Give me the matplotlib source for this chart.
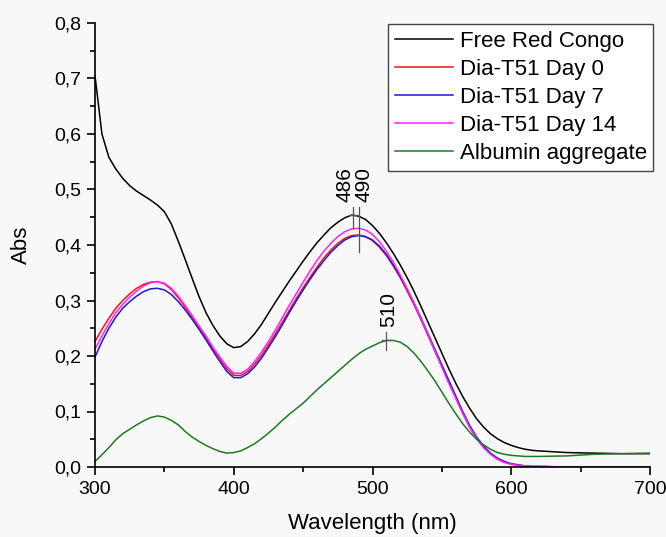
import matplotlib
matplotlib.use('Agg')
import matplotlib.pyplot as plt
from matplotlib.ticker import MultipleLocator, FuncFormatter

plt.rcParams['font.family'] = ['Liberation Sans', 'DejaVu Sans']

# wavelength grid (nm)
wl = [300, 305, 310, 315, 320, 325, 330, 335, 340, 345, 350, 355, 360, 365, 370, 375,
      380, 385, 390, 395, 400, 405, 410, 415, 420, 425, 430, 435, 440, 445, 450, 455,
      460, 465, 470, 475, 480, 485, 490, 495, 500, 505, 510, 515, 520, 525, 530, 535,
      540, 545, 550, 555, 560, 565, 570, 575, 580, 585, 590, 595, 600, 605, 610, 615,
      620, 640, 660, 680, 700]

free_congo = [0.705, 0.600, 0.558, 0.537, 0.520, 0.507, 0.497, 0.489, 0.481, 0.472, 0.460,
              0.438, 0.407, 0.374, 0.340, 0.307, 0.278, 0.255, 0.236, 0.222, 0.215, 0.217,
              0.226, 0.240, 0.257, 0.277, 0.297, 0.316, 0.335, 0.353, 0.371, 0.388, 0.404,
              0.418, 0.431, 0.441, 0.449, 0.454, 0.452, 0.446, 0.435, 0.421, 0.404, 0.385,
              0.364, 0.341, 0.316, 0.289, 0.261, 0.233, 0.205, 0.177, 0.151, 0.127, 0.106,
              0.087, 0.072, 0.060, 0.051, 0.044, 0.039, 0.035, 0.032, 0.030, 0.029, 0.026,
              0.025, 0.024, 0.024]

day0 = [0.226, 0.248, 0.268, 0.286, 0.300, 0.312, 0.322, 0.329, 0.333, 0.334, 0.330, 0.320,
        0.305, 0.288, 0.270, 0.251, 0.233, 0.213, 0.195, 0.177, 0.165, 0.165, 0.172, 0.185,
        0.201, 0.220, 0.240, 0.261, 0.282, 0.303, 0.323, 0.342, 0.360, 0.377, 0.391, 0.403,
        0.412, 0.417, 0.418, 0.415, 0.408, 0.396, 0.381, 0.362, 0.341, 0.317, 0.292, 0.265,
        0.237, 0.209, 0.181, 0.153, 0.125, 0.097, 0.072, 0.052, 0.036, 0.024, 0.015, 0.009,
        0.005, 0.003, 0.002, 0.001, 0.001, 0.000, 0.000, 0.000, 0.000]

day7 = [0.198, 0.226, 0.250, 0.270, 0.286, 0.298, 0.308, 0.316, 0.321, 0.322, 0.319, 0.311,
        0.298, 0.283, 0.266, 0.248, 0.229, 0.209, 0.190, 0.172, 0.161, 0.161, 0.168, 0.180,
        0.196, 0.215, 0.235, 0.256, 0.278, 0.299, 0.319, 0.338, 0.356, 0.372, 0.387, 0.399,
        0.409, 0.415, 0.417, 0.415, 0.409, 0.398, 0.383, 0.364, 0.343, 0.320, 0.295, 0.268,
        0.240, 0.212, 0.184, 0.156, 0.128, 0.100, 0.075, 0.054, 0.038, 0.025, 0.016, 0.010,
        0.006, 0.004, 0.002, 0.001, 0.001, 0.000, 0.000, 0.000, 0.000]

day14 = [0.212, 0.236, 0.258, 0.278, 0.293, 0.306, 0.317, 0.326, 0.332, 0.334, 0.331, 0.322,
         0.308, 0.291, 0.273, 0.254, 0.236, 0.216, 0.198, 0.181, 0.169, 0.169, 0.176, 0.190,
         0.207, 0.226, 0.247, 0.269, 0.291, 0.312, 0.333, 0.353, 0.372, 0.389, 0.403, 0.415,
         0.424, 0.429, 0.430, 0.427, 0.419, 0.406, 0.389, 0.369, 0.346, 0.321, 0.295, 0.267,
         0.238, 0.209, 0.180, 0.151, 0.124, 0.097, 0.072, 0.051, 0.035, 0.023, 0.014, 0.008,
         0.005, 0.003, 0.002, 0.001, 0.001, 0.000, 0.000, 0.000, 0.000]

albumin = [0.010, 0.022, 0.035, 0.049, 0.060, 0.068, 0.076, 0.083, 0.089, 0.092, 0.090, 0.084,
           0.076, 0.064, 0.054, 0.046, 0.039, 0.033, 0.028, 0.025, 0.026, 0.029, 0.035, 0.042,
           0.051, 0.061, 0.072, 0.084, 0.095, 0.105, 0.115, 0.127, 0.139, 0.150, 0.161, 0.172,
           0.183, 0.194, 0.204, 0.212, 0.218, 0.224, 0.228, 0.228, 0.225, 0.217, 0.205, 0.190,
           0.173, 0.155, 0.135, 0.115, 0.096, 0.078, 0.063, 0.050, 0.040, 0.032, 0.026, 0.023,
           0.021, 0.020, 0.019, 0.019, 0.019, 0.020, 0.023, 0.024, 0.025]

# peak markers
peak_nm = [486, 490, 510]
peak_abs = [0.454, 0.418, 0.228]
peak_text = ['486', '490', '510']

bg = '#f8f8f8'
fig = plt.figure(figsize=(6.66, 5.37), dpi=100, facecolor=bg)
ax = fig.add_axes([95 / 666, 1 - 467 / 537, 555 / 666, 444 / 537], facecolor=bg)

ax.plot(wl, free_congo, color='black', lw=1.1, label='Free Red Congo')
ax.plot(wl, day0, color='#ff1010', lw=1.1, label='Dia-T51 Day 0')
ax.plot(wl, day7, color='#1a1ad0', lw=1.1, label='Dia-T51 Day 7')
ax.plot(wl, day14, color='#ff20ff', lw=1.1, label='Dia-T51 Day 14')
ax.plot(wl, albumin, color='#1f7a1f', lw=1.1, label='Albumin aggregate')

# peak labels: vertical line, small cross at the peak, rotated value
label_dx = [-6.0, 4.0, 1.5]
label_y = [0.477, 0.477, 0.252]
for x, y, t, dx, ly in zip(peak_nm, peak_abs, peak_text, label_dx, label_y):
    if t == '510':
        lo, hi = y - 0.018, y + 0.016
    elif t == '490':
        lo, hi = y - 0.031, ly - 0.008
    else:
        lo, hi = y - 0.024, ly - 0.008
    ax.plot([x, x], [lo, hi], color='#555555', lw=0.9)
    ax.plot([x - 3, x + 3], [y, y], color='#555555', lw=0.9)
    ax.text(x + dx, ly, t, rotation=90, ha='center', va='bottom', fontsize=15)

ax.set_xlim(300, 700)
ax.set_ylim(0, 0.8)
ax.xaxis.set_major_locator(MultipleLocator(100))
ax.xaxis.set_minor_locator(MultipleLocator(50))
ax.yaxis.set_major_locator(MultipleLocator(0.1))
ax.yaxis.set_minor_locator(MultipleLocator(0.05))
ax.yaxis.set_major_formatter(FuncFormatter(lambda v, p: f'{v:.1f}'.replace('.', ',')))
ax.tick_params(which='major', direction='out', length=6, width=1.2, labelsize=14, pad=4)
ax.tick_params(which='minor', direction='out', length=3.5, width=1.2)
for s in ['top', 'right']:
    ax.spines[s].set_visible(False)
for s in ['left', 'bottom']:
    ax.spines[s].set_linewidth(1.2)

fig.text(372 / 666, 1 - 523 / 537, 'Wavelength (nm)', ha='center', va='center', fontsize=16)
fig.text(21 / 666, 1 - 245 / 537, 'Abs', ha='center', va='center', rotation=90, fontsize=16)

leg = ax.legend(loc='upper right', bbox_to_anchor=(1.006, 0.998), borderaxespad=0,
                fontsize=16, fancybox=False, framealpha=1, edgecolor='#444444',
                handlelength=2.6, handletextpad=0.3, labelspacing=0.32, borderpad=0.3)
leg.get_frame().set_linewidth(1.0)
leg.get_frame().set_facecolor('white')

fig.savefig('out.png', dpi=100, facecolor=bg)
